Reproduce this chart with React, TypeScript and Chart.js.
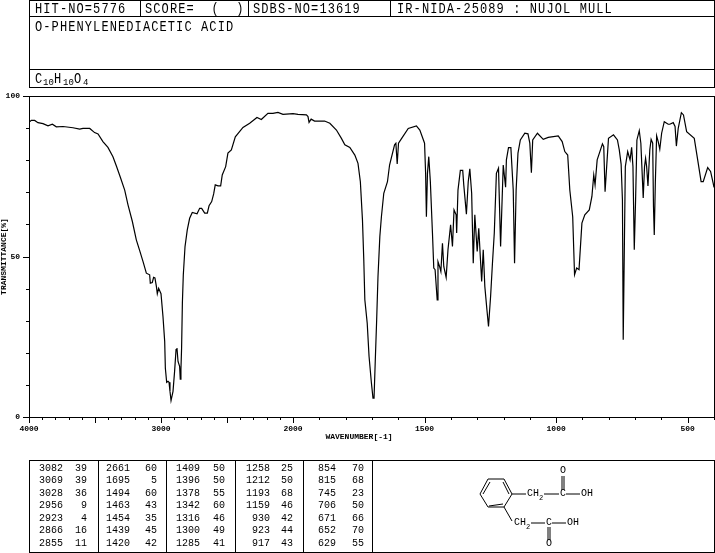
import React, { useEffect, useRef } from "react";
import { Chart, LinearScale, registerables } from "chart.js";

Chart.register(...registerables);

const wavenumbers = [
  4000, 3982, 3957, 3932, 3894, 3856, 3823, 3793, 3742, 3667, 3616, 3591, 3540, 3503, 3477, 3440, 3402, 3364, 3338, 3308,
  3275, 3250, 3217, 3187, 3162, 3136, 3111, 3086, 3081, 3066, 3056, 3046, 3035, 3028, 3018, 3000, 2985, 2972, 2967, 2957,
  2947, 2939, 2932, 2924, 2917, 2909, 2897, 2886, 2879, 2871, 2859, 2854, 2849, 2844, 2838, 2831, 2818, 2801, 2783, 2763,
  2727, 2707, 2692, 2669, 2649, 2636, 2616, 2601, 2589, 2568, 2548, 2536, 2510, 2493, 2467, 2437, 2379, 2328, 2273, 2240,
  2190, 2152, 2114, 2076, 2000, 1981, 1949, 1943, 1939, 1931, 1918, 1912, 1880, 1860, 1835, 1816, 1803, 1784, 1765, 1753,
  1744, 1736, 1731, 1727, 1718, 1711, 1702, 1696, 1692, 1687, 1682, 1677, 1670, 1664, 1655, 1641, 1633, 1614, 1609, 1604,
  1599, 1587, 1562, 1531, 1518, 1500, 1496, 1493, 1489, 1484, 1478, 1470, 1465, 1460, 1452, 1449, 1443, 1438, 1432, 1427,
  1418, 1411, 1401, 1394, 1388, 1380, 1378, 1373, 1364, 1355, 1351, 1341, 1334, 1328, 1321, 1315, 1309, 1300, 1294, 1283,
  1277, 1271, 1263, 1257, 1249, 1242, 1235, 1227, 1219, 1211, 1201, 1192, 1189, 1181, 1172, 1163, 1158, 1152, 1145, 1136,
  1119, 1107, 1100, 1094, 1089, 1071, 1049, 1030, 992, 977, 967, 956, 948, 937, 930, 922, 913, 902, 891, 874,
  864, 857, 852, 844, 824, 819, 814, 801, 782, 767, 760, 753, 748, 745, 737, 728, 719, 713, 708, 703,
  698, 693, 684, 678, 673, 669, 664, 660, 656, 651, 644, 639, 633, 630, 627, 623, 618, 612, 606, 599,
  589, 574, 568, 555, 548, 543, 536, 524, 516, 504, 475, 462, 449, 441, 424, 413, 403, 400,
];

const transmittance = [
  91.8, 92.4, 92.4, 91.7, 91.4, 90.7, 91.2, 90.4, 90.5, 90.1, 89.7, 89.9, 89.9, 88.6, 88.2, 85.8, 84.0, 81.1, 78.2, 74.7,
  70.7, 66.1, 60.9, 55.2, 51.9, 48.4, 44.8, 44.3, 41.7, 41.9, 43.5, 43.3, 40.7, 38.4, 40.1, 38.4, 31.3, 23.5, 15.2, 10.8,
  11.1, 10.8, 8.0, 5.1, 5.1, 8.0, 14.2, 21.0, 21.5, 17.3, 15.8, 11.8, 14.7, 21.5, 35.5, 44.3, 53.1, 58.3, 61.9, 63.7,
  63.3, 65.0, 65.0, 63.5, 63.5, 65.8, 67.1, 69.5, 72.3, 72.0, 72.0, 75.4, 78.0, 82.2, 83.2, 87.3, 90.2, 91.5, 93.3, 92.7,
  94.6, 94.6, 94.9, 94.3, 94.5, 94.3, 94.1, 93.6, 91.8, 92.8, 92.2, 92.2, 92.2, 91.5, 89.4, 86.8, 84.8, 84.0, 81.6, 79.0,
  73.3, 61.4, 49.0, 36.5, 29.3, 18.9, 10.6, 5.9, 5.9, 18.4, 30.3, 43.8, 56.2, 62.4, 69.7, 73.3, 78.5, 84.8, 85.3, 78.8,
  85.3, 86.8, 89.9, 90.7, 89.4, 85.3, 75.9, 62.4, 75.9, 81.1, 73.3, 57.3, 46.4, 45.9, 36.5, 48.4, 46.9, 45.3, 54.1, 46.9,
  43.5, 52.1, 59.9, 53.1, 64.5, 63.0, 57.3, 70.7, 76.8, 76.8, 72.3, 63.2, 73.3, 77.3, 69.7, 47.9, 63.0, 51.6, 58.8, 42.2,
  52.1, 40.7, 33.4, 28.2, 37.6, 47.9, 57.3, 75.9, 77.5, 53.1, 78.5, 71.6, 80.1, 83.9, 83.9, 70.7, 47.9, 70.7, 82.2, 86.3,
  88.4, 88.2, 85.3, 76.1, 86.3, 88.4, 86.5, 87.1, 87.6, 85.8, 82.7, 81.6, 70.7, 62.4, 44.3, 46.4, 45.9, 60.4, 63.0, 64.5,
  68.7, 75.4, 72.3, 80.1, 85.1, 84.2, 70.2, 86.8, 87.9, 86.3, 83.2, 78.8, 67.6, 24.1, 78.0, 82.7, 80.1, 84.0, 78.0, 52.1,
  67.6, 86.3, 89.2, 85.3, 75.9, 68.2, 78.0, 80.6, 78.0, 72.0, 83.2, 86.5, 85.3, 65.6, 56.7, 72.8, 87.6, 85.8, 83.4, 88.4,
  92.0, 91.2, 91.2, 91.7, 90.5, 84.4, 89.9, 94.8, 94.1, 88.9, 86.8, 80.1, 73.3, 73.3, 77.7, 76.5, 72.8, 71.5,
];

const tickWavenumbers = [
  4000, 3900, 3800, 3700, 3600, 3500, 3400, 3300, 3200, 3100, 3000, 2900, 2800, 2700, 2600, 2500, 2400, 2300, 2200, 2100,
  2000, 1900, 1800, 1700, 1600, 1500, 1400, 1300, 1200, 1100, 1000, 900, 800, 700, 600, 500, 400,
];
const majorTickWavenumbers = [4000, 3500, 3000, 2500, 2000, 1500, 1000, 500];
const labelledWavenumbers = [4000, 3000, 2000, 1500, 1000, 500];
const labelledTransmittance = [0, 50, 100];

const headerCells = ["HIT-NO=5776", "SCORE=  (  )", "SDBS-NO=13619", "IR-NIDA-25089 : NUJOL MULL"];
const compoundName = "O-PHENYLENEDIACETIC ACID";
const yAxisTitle = "TRANSMITTANCE[%]";
const xAxisTitle = "WAVENUMBER[-1]";

const peakWavenumbers = [
  ["3082", "3069", "3028", "2956", "2923", "2866", "2855"],
  ["2661", "1695", "1494", "1463", "1454", "1439", "1420"],
  ["1409", "1396", "1378", "1342", "1316", "1300", "1285"],
  ["1258", "1212", "1193", "1159", "930", "923", "917"],
  ["854", "815", "745", "706", "671", "652", "629"],
];
const peakValues = [
  ["39", "39", "36", "9", "4", "16", "11"],
  ["60", "5", "60", "43", "35", "45", "42"],
  ["50", "50", "55", "60", "46", "49", "41"],
  ["25", "50", "68", "46", "42", "44", "43"],
  ["70", "68", "23", "50", "66", "70", "55"],
];

const WAVE_BREAK = 264 / 685;

class WavenumberScale extends LinearScale {
  static id = "wavenumber";
  static defaults = LinearScale.defaults;
  getPixelForValue(value: number) {
    const dec =
      value >= 2000
        ? ((4000 - value) / 2000) * WAVE_BREAK
        : WAVE_BREAK + ((2000 - value) / 1600) * (1 - WAVE_BREAK);
    return this.getPixelForDecimal(dec);
  }
  getValueForPixel(pixel: number) {
    const dec = this.getDecimalForPixel(pixel);
    return dec <= WAVE_BREAK
      ? 4000 - (dec / WAVE_BREAK) * 2000
      : 2000 - ((dec - WAVE_BREAK) / (1 - WAVE_BREAK)) * 1600;
  }
}
Chart.register(WavenumberScale as any);

const MONO = '"Liberation Mono", monospace';

const framePlugin = {
  id: "spectrumFrame",
  afterDraw(chart: any) {
    const { ctx, chartArea, scales } = chart;
    ctx.save();
    ctx.strokeStyle = "#000";
    ctx.lineWidth = 1;
    ctx.strokeRect(
      Math.round(chartArea.left) + 0.5,
      Math.round(chartArea.top) + 0.5,
      Math.round(chartArea.right - chartArea.left),
      Math.round(chartArea.bottom - chartArea.top),
    );
    ctx.beginPath();
    for (const t of scales.x.ticks) {
      const px = Math.round(scales.x.getPixelForValue(t.value)) + 0.5;
      const len = majorTickWavenumbers.includes(t.value) ? 6 : 3;
      ctx.moveTo(px, chartArea.bottom);
      ctx.lineTo(px, chartArea.bottom + len);
    }
    for (const t of scales.y.ticks) {
      const py = Math.round(scales.y.getPixelForValue(t.value)) + 0.5;
      const len = labelledTransmittance.includes(t.value) ? 6 : 3;
      ctx.moveTo(chartArea.left, py);
      ctx.lineTo(chartArea.left - len, py);
    }
    ctx.stroke();
    ctx.fillStyle = "#000";
    ctx.font = `bold 8px ${MONO}`;
    ctx.textAlign = "center";
    ctx.textBaseline = "middle";
    ctx.fillText(xAxisTitle, 359, 437);
    ctx.restore();
  },
};

function Text({ x, y, right, size = 12, spacing = 0, tall = false, children }: any) {
  return (
    <span
      style={{
        position: "absolute",
        left: right === undefined ? x : undefined,
        right: right === undefined ? undefined : 715 - right,
        top: y,
        fontFamily: MONO,
        fontSize: size,
        letterSpacing: spacing,
        lineHeight: "12px",
        whiteSpace: "pre",
        color: "#000",
        transform: tall ? "scaleY(1.25)" : undefined,
      }}
    >
      {children}
    </span>
  );
}

function Box({ x, y, w, h }: any) {
  return (
    <div
      style={{
        position: "absolute",
        left: x,
        top: y,
        width: w,
        height: h,
        boxSizing: "border-box",
        border: "1px solid #000",
      }}
    />
  );
}

const headerBoxes = [
  [29, 0, 112, 17],
  [140, 0, 109, 17],
  [248, 0, 143, 17],
  [390, 0, 325, 17],
  [29, 16, 686, 54],
  [29, 69, 686, 19],
];
const headerTextX = [35, 145, 253, 397];
const tableBoxes = [
  [29, 460, 70, 93],
  [98, 460, 69, 93],
  [166, 460, 70, 93],
  [235, 460, 69, 93],
  [303, 460, 70, 93],
  [372, 460, 343, 93],
];
const waveRight = [63, 130, 200, 270, 336];
const valueRight = [87, 157, 225, 293, 364];

function Molecule() {
  const seg = (p: number[], i: number) => (
    <line key={i} x1={p[0]} y1={p[1]} x2={p[2]} y2={p[3]} stroke="#000" strokeWidth={1} />
  );
  const bonds = [
    [488, 479, 504, 479],
    [504, 479, 512, 494],
    [512, 494, 504, 507],
    [504, 507, 488, 507],
    [488, 507, 480, 494],
    [480, 494, 488, 479],
    [490, 482, 483, 494],
    [503, 482, 509, 494],
    [489, 506, 503, 504],
    [512, 494, 526, 494],
    [544, 494, 559, 494],
    [566, 494, 580, 494],
    [562, 476, 562, 490],
    [564, 476, 564, 490],
    [504, 507, 512, 521],
    [531, 523, 545, 523],
    [552, 523, 566, 523],
    [548, 527, 548, 540],
    [550, 527, 550, 540],
  ];
  return (
    <svg width={715} height={553} style={{ position: "absolute", left: 0, top: 0 }}>
      {bonds.map(seg)}
    </svg>
  );
}

export default function App() {
  const ref = useRef<HTMLCanvasElement>(null);
  useEffect(() => {
    const chart = new Chart(ref.current as HTMLCanvasElement, {
      type: "line",
      data: {
        datasets: [
          {
            data: wavenumbers.map((w, i) => ({ x: w, y: transmittance[i] })),
            borderColor: "#000",
            borderWidth: 1.2,
            pointRadius: 0,
            tension: 0,
            fill: false,
          },
        ],
      },
      options: {
        animation: false,
        responsive: false,
        devicePixelRatio: 1,
        layout: { padding: { top: 96, right: 1, left: 0, bottom: 0 } },
        plugins: { legend: { display: false }, tooltip: { enabled: false } },
        scales: {
          x: {
            type: "wavenumber",
            min: 400,
            max: 4000,
            grid: { display: false, drawTicks: false },
            border: { display: false },
            afterBuildTicks: (s: any) => {
              s.ticks = tickWavenumbers.map((value) => ({ value }));
            },
            afterFit: (s: any) => {
              s.height = 136;
              s.paddingLeft = 0;
              s.paddingRight = 0;
            },
            ticks: {
              autoSkip: false,
              maxRotation: 0,
              padding: 7,
              color: "#000",
              font: { family: MONO, size: 8, weight: "bold" },
              callback: (v: any) => (labelledWavenumbers.includes(v) ? String(v) : ""),
            },
          },
          y: {
            min: 0,
            max: 100,
            grid: { display: false, drawTicks: false },
            border: { display: false },
            afterFit: (s: any) => {
              s.width = 29;
              s.paddingTop = 0;
              s.paddingBottom = 0;
            },
            ticks: {
              stepSize: 10,
              autoSkip: false,
              padding: 9,
              color: "#000",
              font: { family: MONO, size: 8, weight: "bold" },
              callback: (v: any) => (labelledTransmittance.includes(v) ? String(v) : ""),
            },
            title: {
              display: true,
              text: yAxisTitle,
              color: "#000",
              padding: 0,
              font: { family: MONO, size: 8, weight: "bold", lineHeight: 1 },
            },
          },
        },
      } as any,
      plugins: [framePlugin],
    });
    return () => chart.destroy();
  }, []);

  return (
    <div style={{ position: "fixed", left: 0, top: 0, width: 715, height: 553, overflow: "hidden", background: "#fff" }}>
      <canvas ref={ref} width={715} height={553} style={{ position: "absolute", left: 0, top: 0, display: "block" }} />
      {headerBoxes.map((b, i) => (
        <Box key={i} x={b[0]} y={b[1]} w={b[2]} h={b[3]} />
      ))}
      {headerCells.map((t, i) => (
        <Text key={t} x={headerTextX[i]} y={3} spacing={1.1} tall>
          {t}
        </Text>
      ))}
      <Text x={35} y={21} spacing={1.1} tall>
        {compoundName}
      </Text>
      <Text x={35} y={73} spacing={1.1} tall>C</Text>
      <Text x={43} y={77} size={9}>10</Text>
      <Text x={54} y={73} spacing={1.1} tall>H</Text>
      <Text x={63} y={77} size={9}>10</Text>
      <Text x={74} y={73} spacing={1.1} tall>O</Text>
      <Text x={83} y={77} size={9}>4</Text>
      {tableBoxes.map((b, i) => (
        <Box key={i} x={b[0]} y={b[1]} w={b[2]} h={b[3]} />
      ))}
      {peakWavenumbers.map((col, c) =>
        col.map((w, r) => (
          <React.Fragment key={c + "-" + r}>
            <Text right={waveRight[c]} y={463 + r * 12.45} size={10}>
              {w}
            </Text>
            <Text right={valueRight[c]} y={463 + r * 12.45} size={10}>
              {peakValues[c][r]}
            </Text>
          </React.Fragment>
        )),
      )}
      <Molecule />
      <Text x={527} y={488} size={10}>CH</Text>
      <Text x={539} y={492} size={7}>2</Text>
      <Text x={560} y={488} size={10}>C</Text>
      <Text x={581} y={488} size={10}>OH</Text>
      <Text x={560} y={465} size={10}>O</Text>
      <Text x={514} y={517} size={10}>CH</Text>
      <Text x={526} y={521} size={7}>2</Text>
      <Text x={546} y={517} size={10}>C</Text>
      <Text x={567} y={517} size={10}>OH</Text>
      <Text x={546} y={538} size={10}>O</Text>
    </div>
  );
}
